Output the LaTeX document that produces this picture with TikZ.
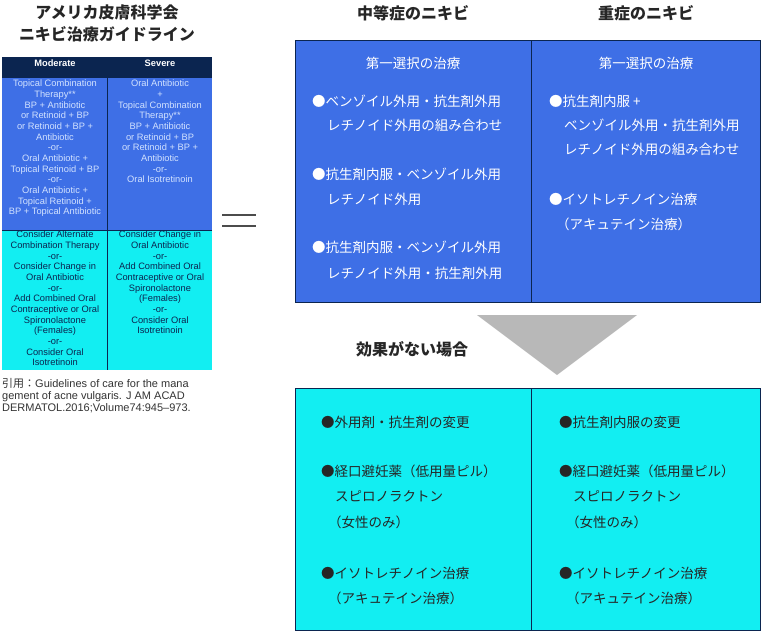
\documentclass[tikz,border=0pt]{standalone}
\usepackage{fontspec}
\setmainfont{Liberation Sans}
\newfontfamily\cjk{Noto Sans CJK JP}
\begin{document}
\begin{tikzpicture}[x=1pt,y=-1pt,
  tbl/.style={font=\fontsize{9.3}{10.65}\selectfont,align=center,anchor=north,inner sep=0},
  jw/.style={font=\cjk\fontsize{13.5}{25}\selectfont,anchor=west,inner sep=0,text=white},
  jd/.style={font=\cjk\fontsize{13.5}{25}\selectfont,anchor=west,inner sep=0,text=black!85},
  head/.style={font=\cjk\bfseries\fontsize{16}{22}\selectfont,inner sep=0,text=black!85}]
\definecolor{navy}{HTML}{0B2550}
\definecolor{bl}{HTML}{3E6FE6}
\definecolor{cy}{HTML}{12EEF2}
\definecolor{lt}{HTML}{D2E2FF}
\useasboundingbox (0,0) rectangle (768,638);
% left titles
\node[head,align=center] (t1) at (107,23) {アメリカ皮膚科学会\\ニキビ治療ガイドライン};
% table
\fill[navy] (2,57) rectangle (212,78);
\fill[bl] (2,78) rectangle (212,230);
\fill[cy] (2,230) rectangle (212,370);
\draw[navy,line width=0.8] (107,57) -- (107,370);
\draw[navy,line width=0.8] (2,230) -- (212,230);
\node[tbl,text=white,font=\bfseries\fontsize{9.3}{10}\selectfont] (hm) at (55,60) {Moderate};
\node[tbl,text=white,font=\bfseries\fontsize{9.3}{10}\selectfont] (hs) at (160,60) {Severe};
\node[tbl,text=lt] (m1) at (55,80) {Topical Combination\\Therapy**\\BP + Antibiotic\\or Retinoid + BP\\or Retinoid + BP +\\Antibiotic\\-or-\\Oral Antibiotic +\\Topical Retinoid + BP\\-or-\\Oral Antibiotic +\\Topical Retinoid +\\BP + Topical Antibiotic};
\node[tbl,text=lt] (s1) at (160,80) {Oral Antibiotic\\+\\Topical Combination\\Therapy**\\BP + Antibiotic\\or Retinoid + BP\\or Retinoid + BP +\\Antibiotic\\-or-\\Oral Isotretinoin};
\node[tbl,text=navy] (m2) at (55,231) {Consider Alternate\\Combination Therapy\\-or-\\Consider Change in\\Oral Antibiotic\\-or-\\Add Combined Oral\\Contraceptive or Oral\\Spironolactone\\(Females)\\-or-\\Consider Oral\\Isotretinoin};
\node[tbl,text=navy] (s2) at (160,231) {Consider Change in\\Oral Antibiotic\\-or-\\Add Combined Oral\\Contraceptive or Oral\\Spironolactone\\(Females)\\-or-\\Consider Oral\\Isotretinoin};
\node[anchor=north west,inner sep=0,align=left,text=black!80,font=\fontsize{11}{12}\selectfont] (cit) at (2,378) {{\cjk 引用：}Guidelines of care for the mana\\gement of acne vulgaris. J AM ACAD\\DERMATOL.2016;Volume74:945–973.};
% equals
\draw[black!70,line width=2.2] (222,215) -- (256,215) (222,226) -- (256,226);
% headings
\node[head] (h1) at (413,13) {中等症のニキビ};
\node[head] (h2) at (646,13) {重症のニキビ};
% top box
\fill[bl] (295,40) rectangle (760,302);
\draw[navy,line width=1] (295,40) rectangle (760,302) (531,40) -- (531,302);
\node[jw,anchor=center] (f1) at (413,63) {第一選択の治療};
\node[jw,anchor=center] (f2) at (646,63) {第一選択の治療};
\node[jw] (a1) at (312,101) {●ベンゾイル外用・抗生剤外用};
\node[jw] (a2) at (327,125) {レチノイド外用の組み合わせ};
\node[jw] (a3) at (312,174) {●抗生剤内服・ベンゾイル外用};
\node[jw] (a4) at (327,199) {レチノイド外用};
\node[jw] (a5) at (312,247) {●抗生剤内服・ベンゾイル外用};
\node[jw] (a6) at (327,273) {レチノイド外用・抗生剤外用};
\node[jw] (b1) at (549,101) {●抗生剤内服 +};
\node[jw] (b2) at (564,125) {ベンゾイル外用・抗生剤外用};
\node[jw] (b3) at (564,149) {レチノイド外用の組み合わせ};
\node[jw] (b4) at (549,199) {●イソトレチノイン治療};
\node[jw] (b5) at (556,224) {（アキュテイン治療）};
% triangle
\fill[black!28] (477,315) -- (637,315) -- (557,375) -- cycle;
\node[head] (nf) at (412,349) {効果がない場合};
% bottom box
\fill[cy] (295,388) rectangle (760,630);
\draw[navy,line width=1] (295,388) rectangle (760,630) (531,388) -- (531,630);
\node[jd] (c1) at (321,422) {●外用剤・抗生剤の変更};
\node[jd] (c2) at (321,471) {●経口避妊薬（低用量ピル）};
\node[jd] (c3) at (335,496) {スピロノラクトン};
\node[jd] (c4) at (328,522) {（女性のみ）};
\node[jd] (c5) at (321,573) {●イソトレチノイン治療};
\node[jd] (c6) at (328,598) {（アキュテイン治療）};
\node[jd] (d1) at (559,422) {●抗生剤内服の変更};
\node[jd] (d2) at (559,471) {●経口避妊薬（低用量ピル）};
\node[jd] (d3) at (573,496) {スピロノラクトン};
\node[jd] (d4) at (566,522) {（女性のみ）};
\node[jd] (d5) at (559,573) {●イソトレチノイン治療};
\node[jd] (d6) at (566,598) {（アキュテイン治療）};
\end{tikzpicture}
\end{document}
